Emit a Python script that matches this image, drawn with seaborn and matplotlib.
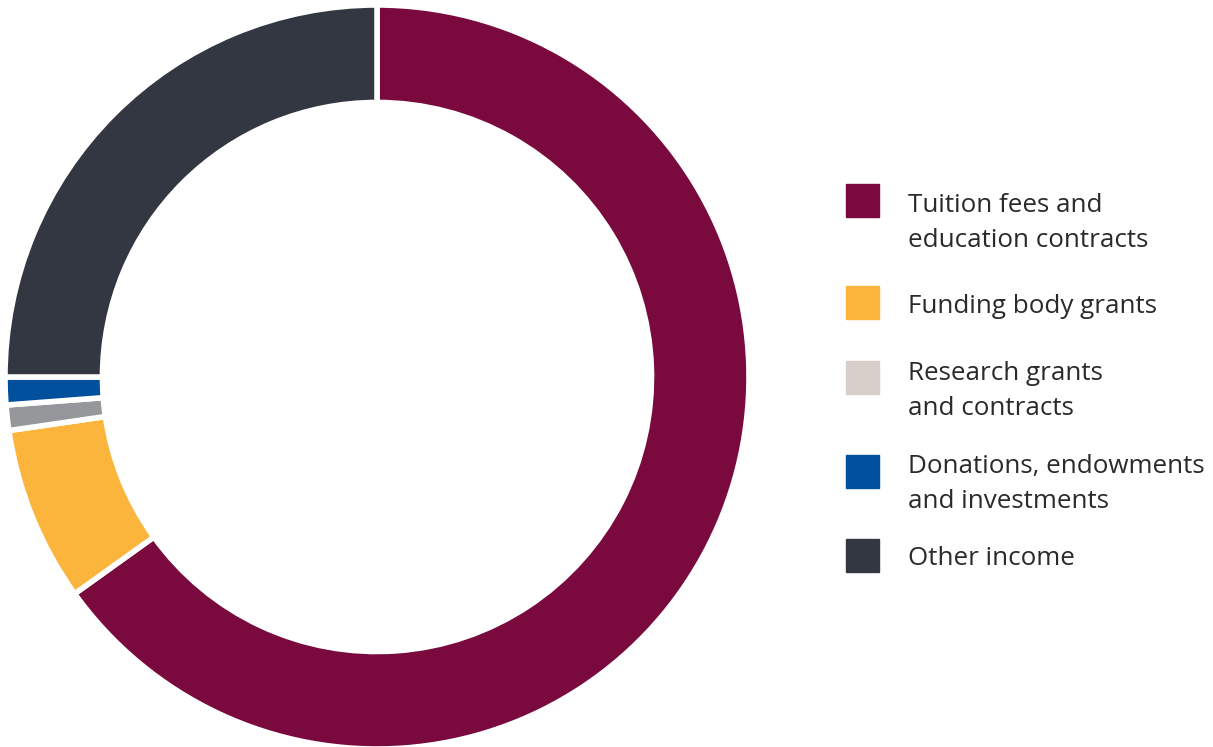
import matplotlib
matplotlib.use("Agg")
import matplotlib.pyplot as plt
from matplotlib.patches import Rectangle
import seaborn as sns

categories = ["Tuition fees and\neducation contracts", "Funding body grants",
              "Research grants\nand contracts", "Donations, endowments\nand investments",
              "Other income"]
shares = [65.1, 7.6, 1.1, 1.2, 25.0]
wedge_colors = ["#7a0a3e", "#fbb43c", "#96979b", "#00509e", "#333742"]
legend_colors = ["#7a0a3e", "#fbb43c", "#d8d0c8", "#00509e", "#333742"]

sns.set_theme(style="white")
plt.rcParams["font.family"] = ["Open Sans", "DejaVu Sans"]

W, H = 1213, 747
fig = plt.figure(figsize=(W / 100, H / 100), dpi=100)
fig.patch.set_facecolor("white")

cx, cy, R = 377, 377, 372
ax = fig.add_axes([(cx - R) / W, (H - cy - R) / H, 2 * R / W, 2 * R / H])
ax.pie(shares, colors=wedge_colors, startangle=90, counterclock=False,
       radius=1.0, wedgeprops=dict(width=0.262, edgecolor="white", linewidth=4.0))
ax.set_xlim(-1, 1)
ax.set_ylim(-1, 1)
ax.set_aspect("equal")
ax.axis("off")

# legend (manual layout)
patch_tops = [184, 286, 361, 455, 539]
first_baselines = [212, 313, 380, 473, 565]
line_step = 35
s = 33
for col, lab, pt, fb in zip(legend_colors, categories, patch_tops, first_baselines):
    fig.patches.append(Rectangle((846 / W, (H - pt - s) / H), s / W, s / H,
                                 transform=fig.transFigure, color=col))
    for i, line in enumerate(lab.split("\n")):
        fig.text(908 / W, (H - fb - i * line_step) / H, line, fontsize=18.7,
                 color="#2a2a2a", va="baseline", ha="left")

fig.savefig("out.png", dpi=100, facecolor="white")
